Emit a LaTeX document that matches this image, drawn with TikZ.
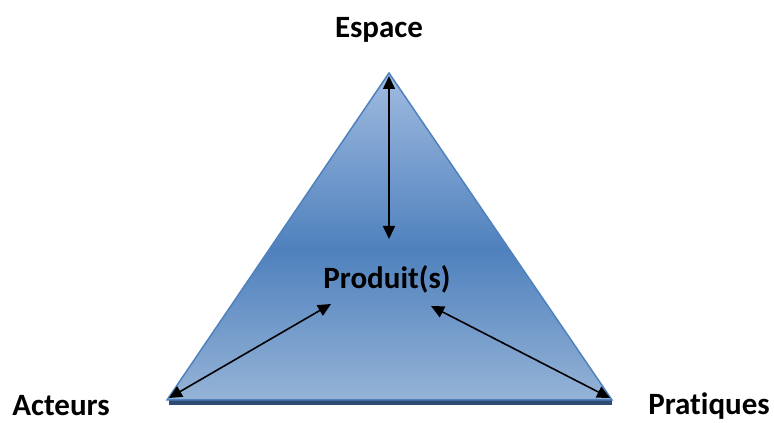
\documentclass[tikz,border=0pt]{standalone}
\usepackage{fontspec}
\setmainfont{Carlito}[Ligatures=NoCommon]
\usetikzlibrary{arrows.meta}
\definecolor{edgeblue}{HTML}{4F81BD}
\definecolor{lightblue}{HTML}{A0BBE0}
\definecolor{midblue}{HTML}{4F81BD}
\definecolor{lowblue}{HTML}{95B3D7}
\definecolor{shadowblue}{HTML}{2E4B73}
\pgfdeclareverticalshading{trishade}{100bp}{color(0bp)=(lowblue); color(25bp)=(lowblue); color(48bp)=(midblue); color(75bp)=(lightblue); color(100bp)=(lightblue)}
\tikzset{
  lbl/.style={font=\bfseries\fontsize{31}{36}\selectfont, inner sep=0pt},
  link/.style={line width=1.6pt, {Triangle[length=13pt,width=12pt]}-{Triangle[length=13pt,width=12pt]}}
}
\begin{document}
\begin{tikzpicture}[x=1pt,y=1pt]
\useasboundingbox (0,0) rectangle (774,423);
\coordinate (apex) at (389,350);
\coordinate (bl) at (167,23);
\coordinate (br) at (612,23);
\fill[shadowblue] (169,23) rectangle (612,18);
\shade[shading=trishade] (apex) -- (br) -- (bl) -- cycle;
\draw[edgeblue, line width=1.5pt, line join=miter] (apex) -- (br) -- (bl) -- cycle;
\node[lbl] (esp) at (379,393) {Espace};
\node[lbl, anchor=base] (act) at (61,7) {Acteurs};
\node[lbl, anchor=base] (pra) at (709,8) {Pratiques};
\node[lbl] (prod) at (387,144) {Produit(s)};
\coordinate (t1) at (389,347);
\coordinate (t2) at (389,184);
\coordinate (l1) at (169,25);
\coordinate (l2) at (331,119);
\coordinate (r1) at (610,25);
\coordinate (r2) at (431,117);
\draw[link] (t1) -- (t2);
\draw[link] (l1) -- (l2);
\draw[link] (r1) -- (r2);
\end{tikzpicture}
\end{document}
